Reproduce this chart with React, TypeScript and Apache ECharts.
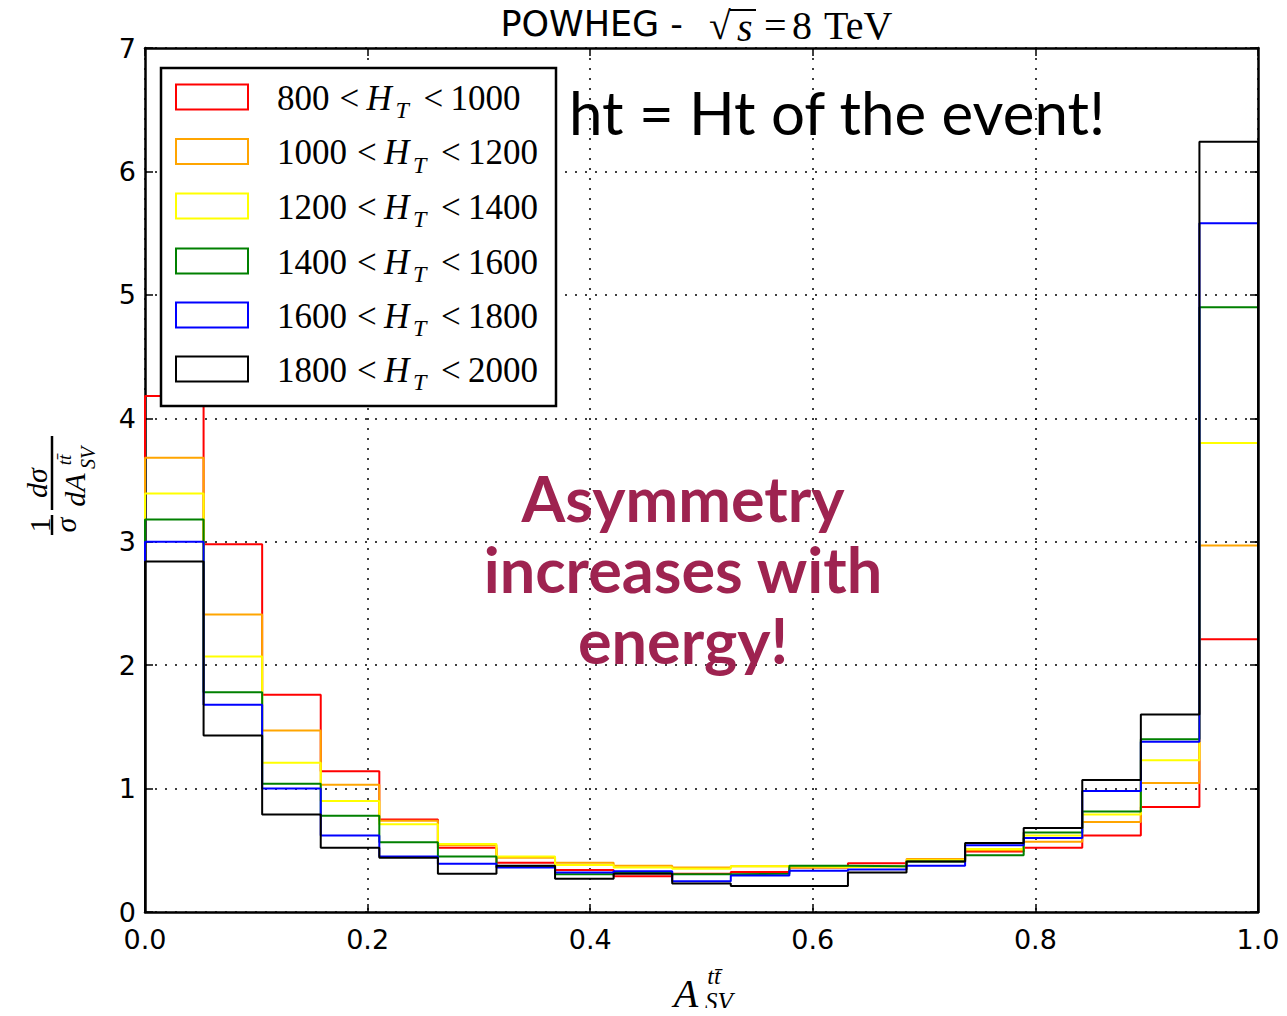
import React, { useEffect, useRef } from "react";
import * as echarts from "echarts";

// ---- data ----
const binCount = 19;
const xTickLabels = ["0.0", "0.2", "0.4", "0.6", "0.8", "1.0"];
const yTickLabels = ["0", "1", "2", "3", "4", "5", "6", "7"];
const htRanges = [
  ["800", "1000"],
  ["1000", "1200"],
  ["1200", "1400"],
  ["1400", "1600"],
  ["1600", "1800"],
  ["1800", "2000"],
];
const seriesColors = ["#ff0000", "#ffa500", "#ffff00", "#008000", "#0000ff", "#000000"];

const ht800 = [4.18, 2.98, 1.76, 1.14, 0.75, 0.52, 0.40, 0.34, 0.29, 0.31, 0.325, 0.36, 0.395, 0.42, 0.49, 0.52, 0.62, 0.85, 2.21];
const ht1000 = [3.68, 2.41, 1.47, 1.03, 0.74, 0.54, 0.44, 0.40, 0.375, 0.36, 0.37, 0.36, 0.37, 0.43, 0.50, 0.57, 0.73, 1.045, 2.97];
const ht1200 = [3.39, 2.07, 1.21, 0.90, 0.71, 0.55, 0.45, 0.38, 0.36, 0.35, 0.37, 0.365, 0.37, 0.42, 0.51, 0.62, 0.79, 1.23, 3.80];
const ht1400 = [3.18, 1.78, 1.04, 0.78, 0.565, 0.45, 0.37, 0.305, 0.32, 0.305, 0.31, 0.375, 0.37, 0.41, 0.46, 0.645, 0.815, 1.40, 4.90];
const ht1600 = [3.00, 1.68, 1.00, 0.62, 0.45, 0.39, 0.36, 0.32, 0.33, 0.25, 0.295, 0.335, 0.345, 0.375, 0.54, 0.60, 0.98, 1.38, 5.58];
const ht1800 = [2.84, 1.43, 0.79, 0.52, 0.44, 0.31, 0.375, 0.27, 0.31, 0.23, 0.21, 0.21, 0.32, 0.41, 0.56, 0.68, 1.07, 1.60, 6.24];

const allSeries = [ht800, ht1000, ht1200, ht1400, ht1600, ht1800];

function stepPoints(values: number[]) {
  const pts: number[][] = [[0, 0]];
  values.forEach((v, i) => pts.push([i / binCount, v]));
  pts.push([1, values[values.length - 1]]);
  pts.push([1, 0]);
  return pts;
}

const SANS = "DejaVu Sans";
const SERIF = "Liberation Serif";

export default function App() {
  const ref = useRef<HTMLDivElement>(null);
  useEffect(() => {
    if (!ref.current) return;
    const chart = echarts.init(ref.current, null, { renderer: "svg" });

    const ctx = document.createElement("canvas").getContext("2d")!;
    const tw = (text: string, font: string) => {
      ctx.font = font;
      return ctx.measureText(text).width;
    };

    const dotted = { color: "#000", type: [2, 8] as any, width: 1.5 };
    const frameLine = { show: true, onZero: false, lineStyle: { color: "#000", width: 2.5 } };
    const tick = { show: true, inside: true, length: 8, lineStyle: { color: "#000", width: 1.5 } };

    const legFont = `35px '${SERIF}'`;
    const legItalic = `italic 35px '${SERIF}'`;
    const subFont = `italic 24px '${SERIF}'`;
    const legendRowY = [97, 151.5, 206, 261, 315, 369];
    const legendItems: any[] = [];
    const txt = (x: number, y: number, text: string, font: string) => ({
      type: "text",
      x,
      y,
      z: 101,
      style: { text, font, fill: "#000", align: "left", verticalAlign: "middle" },
    });
    htRanges.forEach((r, i) => {
      const cy = legendRowY[i];
      legendItems.push({
        type: "rect",
        shape: { x: 176, y: cy - 12.5, width: 72, height: 25 },
        style: { fill: "#fff", stroke: seriesColors[i], lineWidth: 2 },
        z: 101,
      });
      const xLo = 277;
      const xLt1 = xLo + tw(r[0], legFont) + 10;
      const xH = xLt1 + 27;
      const xT = xH + 29;
      const xLt2 = xT + 28;
      const xHi = xLt2 + 27;
      legendItems.push(txt(xLo, cy + 1, r[0], legFont));
      legendItems.push(txt(xLt1, cy + 1, "<", legFont));
      legendItems.push(txt(xH, cy + 1, "H", legItalic));
      legendItems.push(txt(xT, cy + 13, "T", subFont));
      legendItems.push(txt(xLt2, cy + 1, "<", legFont));
      legendItems.push(txt(xHi, cy + 1, r[1], legFont));
    });

    const option: any = {
      animation: false,
      backgroundColor: "#fff",
      grid: { left: 145, right: 29, top: 48, bottom: 104, containLabel: false },
      xAxis: [
        {
          type: "value",
          min: 0,
          max: 1,
          interval: 0.2,
          position: "bottom",
          axisLine: frameLine,
          axisTick: tick,
          axisLabel: {
            color: "#000",
            fontFamily: SANS,
            fontSize: 27,
            lineHeight: 27,
            margin: 14,
            formatter: (v: number) => xTickLabels[Math.round(v / 0.2)] ?? "",
          },
          splitLine: { show: true, lineStyle: dotted },
        },
        {
          type: "value",
          min: 0,
          max: 1,
          interval: 0.2,
          position: "top",
          axisLine: frameLine,
          axisTick: tick,
          axisLabel: { show: false },
          splitLine: { show: false },
        },
      ],
      yAxis: [
        {
          type: "value",
          min: 0,
          max: 7,
          interval: 1,
          position: "left",
          axisLine: frameLine,
          axisTick: tick,
          axisLabel: {
            color: "#000",
            fontFamily: SANS,
            fontSize: 27,
            lineHeight: 24,
            margin: 9,
            formatter: (v: number) => yTickLabels[Math.round(v)] ?? "",
          },
          splitLine: { show: true, lineStyle: dotted },
        },
        {
          type: "value",
          min: 0,
          max: 7,
          interval: 1,
          position: "right",
          axisLine: frameLine,
          axisTick: tick,
          axisLabel: { show: false },
          splitLine: { show: false },
        },
      ],
      series: allSeries.map((vals, i) => ({
        type: "line",
        name: `${htRanges[i][0]} < HT < ${htRanges[i][1]}`,
        xAxisIndex: 0,
        yAxisIndex: 0,
        step: "end",
        showSymbol: false,
        symbol: "none",
        data: stepPoints(vals),
        lineStyle: { color: seriesColors[i], width: 2 },
        z: 2 + i,
      })),
      graphic: [
        // legend box
        {
          type: "rect",
          shape: { x: 161, y: 68, width: 395, height: 338 },
          style: { fill: "#fff", stroke: "#000", lineWidth: 2.5 },
          z: 100,
        },
        ...legendItems,
        // title
        {
          type: "text",
          x: 683,
          y: 24,
          style: { text: "POWHEG -", font: `35px '${SANS}'`, fill: "#000", align: "right", verticalAlign: "middle" },
        },
        {
          type: "text",
          x: 709,
          y: 25,
          style: { text: "√", font: `40px '${SERIF}'`, fill: "#000", align: "left", verticalAlign: "middle" },
        },
        {
          type: "line",
          shape: { x1: 730, y1: 10, x2: 756, y2: 10 },
          style: { stroke: "#000", lineWidth: 2 },
        },
        {
          type: "text",
          x: 737,
          y: 27,
          style: { text: "s", font: `italic 40px '${SERIF}'`, fill: "#000", align: "left", verticalAlign: "middle" },
        },
        {
          type: "text",
          x: 764,
          y: 25,
          style: { text: "=", font: `40px '${SERIF}'`, fill: "#000", align: "left", verticalAlign: "middle" },
        },
        {
          type: "text",
          x: 792,
          y: 25,
          style: { text: "8", font: `40px '${SERIF}'`, fill: "#000", align: "left", verticalAlign: "middle" },
        },
        {
          type: "text",
          x: 824,
          y: 25,
          style: { text: "TeV", font: `40px '${SERIF}'`, fill: "#000", align: "left", verticalAlign: "middle" },
        },
        // annotations
        {
          type: "text",
          x: 569,
          y: 112,
          z: 120,
          style: { text: "ht = Ht of the event!", font: `60px 'Lato'`, fill: "#000", align: "left", verticalAlign: "middle" },
        },
        {
          type: "text",
          x: 683,
          y: 568,
          z: 120,
          style: {
            text: "Asymmetry\nincreases with\nenergy!",
            font: `bold 63px 'Lato'`,
            lineHeight: 71,
            fill: "#9e2350",
            align: "center",
            verticalAlign: "middle",
          },
        },
        // x axis label
        {
          type: "text",
          x: 686,
          y: 993,
          style: { text: "A", font: `italic 40px '${SERIF}'`, fill: "#000", align: "center", verticalAlign: "middle" },
        },
        {
          type: "text",
          x: 714,
          y: 976,
          style: { text: "tt\u0304", font: `italic 24px '${SERIF}'`, fill: "#000", align: "center", verticalAlign: "middle" },
        },
        {
          type: "text",
          x: 719,
          y: 1001,
          style: { text: "SV", font: `italic 25px '${SERIF}'`, fill: "#000", align: "center", verticalAlign: "middle" },
        },
        // y axis label
        {
          type: "group",
          x: 52,
          y: 480,
          rotation: Math.PI / 2,
          children: [
            { type: "text", x: -45, y: -13, style: { text: "1", font: `30px '${SERIF}'`, fill: "#000", align: "center", verticalAlign: "middle" } },
            { type: "line", shape: { x1: -55, y1: 0, x2: -35, y2: 0 }, style: { stroke: "#000", lineWidth: 2.5 } },
            { type: "text", x: -45, y: 13, style: { text: "σ", font: `italic 30px '${SERIF}'`, fill: "#000", align: "center", verticalAlign: "middle" } },
            { type: "line", shape: { x1: -30, y1: 0, x2: 44, y2: 0 }, style: { stroke: "#000", lineWidth: 2.5 } },
            { type: "text", x: -3, y: -16, style: { text: "dσ", font: `italic 30px '${SERIF}'`, fill: "#000", align: "center", verticalAlign: "middle" } },
            { type: "text", x: -10, y: 22, style: { text: "dA", font: `italic 30px '${SERIF}'`, fill: "#000", align: "center", verticalAlign: "middle" } },
            { type: "text", x: 20, y: 12, style: { text: "tt\u0304", font: `italic 19px '${SERIF}'`, fill: "#000", align: "center", verticalAlign: "middle" } },
            { type: "text", x: 22, y: 36, style: { text: "SV", font: `italic 20px '${SERIF}'`, fill: "#000", align: "center", verticalAlign: "middle" } },
          ],
        },
      ],
    };
    chart.setOption(option);
    return () => chart.dispose();
  }, []);
  return <div ref={ref} style={{ width: 1287, height: 1016, margin: -8 }} />;
}
